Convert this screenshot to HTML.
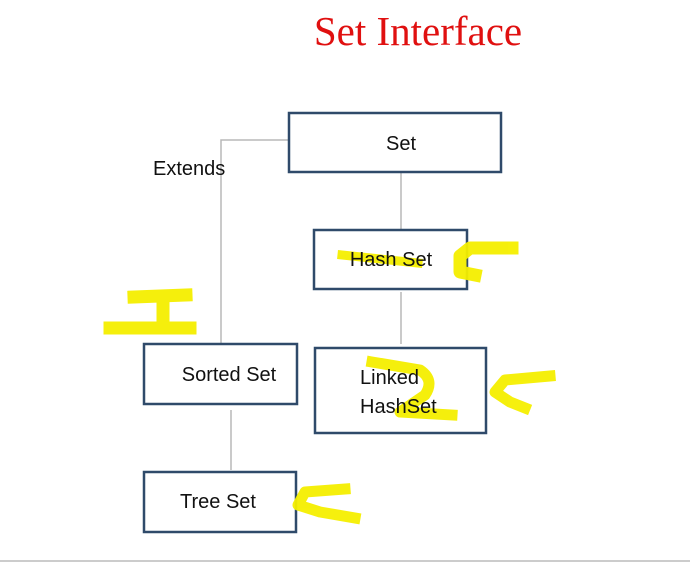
<!DOCTYPE html>
<html><head><style>
html,body{margin:0;padding:0;background:#fff;}
svg{display:block;}
</style></head><body>
<svg width="690" height="563" viewBox="0 0 690 563" xmlns="http://www.w3.org/2000/svg">
<rect width="690" height="563" fill="#fff"/>
<text x="418" y="45" text-anchor="middle" font-family="Liberation Serif, serif" font-size="41" fill="#e01010">Set Interface</text>
<g stroke="#b8b8b8" stroke-width="1.5" fill="none">
<polyline points="289,140 221,140 221,344"/>
<line x1="401" y1="173" x2="401" y2="230"/>
<line x1="401" y1="292" x2="401" y2="344"/>
<line x1="231" y1="410" x2="231" y2="470"/>
</g>
<g stroke="#2f4a6a" stroke-width="2.5" fill="none">
<rect x="289" y="113" width="212" height="59"/>
<rect x="314" y="230" width="153" height="59"/>
<rect x="144" y="344" width="153" height="60"/>
<rect x="315" y="348" width="171" height="85"/>
<rect x="144" y="472" width="152" height="60"/>
</g>
<g stroke="#f5ef00" stroke-width="13" fill="none" stroke-linecap="square" stroke-linejoin="round" opacity="0.95">
<polyline points="134,297 186,295"/>
<polyline points="163,298 163,326"/>
<polyline points="110,328 190,328"/>
<polyline points="342,255 418,263" stroke-width="9"/>
<polyline points="512,248 470,248 460,256 460,272 475,275"/>
<path d="M372,362 L420,370 Q435,380 425,395 L400,412 L452,415" stroke-width="11"/>
<path d="M550,376 L505,380 L495,392 L510,402 L525,408" stroke-width="11"/>
<path d="M345,489 L305,492 L298,505 L320,512 L355,518" stroke-width="11"/>
</g>
<g font-family="Liberation Sans, sans-serif" font-size="20" fill="#111">
<text x="401" y="150" text-anchor="middle">Set</text>
<text x="153" y="175">Extends</text>
<text x="391" y="266" text-anchor="middle">Hash Set</text>
<text x="229" y="381" text-anchor="middle">Sorted Set</text>
<text x="360" y="384">Linked</text>
<text x="360" y="413">HashSet</text>
<text x="218" y="508" text-anchor="middle">Tree Set</text>
</g>
<line x1="0" y1="561" x2="690" y2="561" stroke="#ccc" stroke-width="2"/>
</svg>
</body></html>
